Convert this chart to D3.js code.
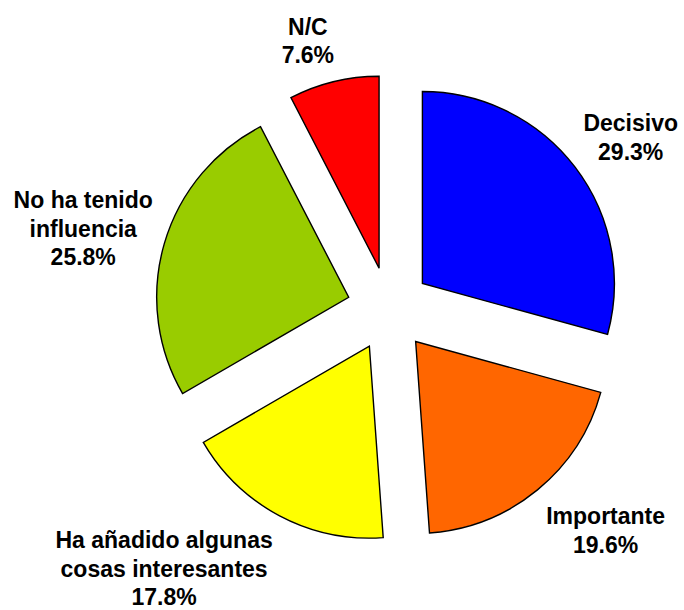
<!DOCTYPE html>
<html>
<head>
<meta charset="utf-8">
<script src="https://cdn.jsdelivr.net/npm/d3@7"></script>
<style>
  body { margin: 0; background: #fff; }
</style>
</head>
<body>
<script>
const categories = ["Decisivo", "Importante", "Ha añadido algunas cosas interesantes", "No ha tenido influencia", "N/C"];
const labelLines = [["Decisivo"], ["Importante"], ["Ha añadido algunas", "cosas interesantes"], ["No ha tenido", "influencia"], ["N/C"]];
const values = [29.3, 19.6, 17.8, 25.8, 7.6];
const colors = ["#0000ff", "#ff6600", "#ffff00", "#99cc00", "#ff0000"];

const width = 684, height = 610;
const cx = 389, cy = 309, radius = 192, explode = 42;
const labelR = 280, lineH = 28.5, fontSize = 23;
// small hand nudges so the labels sit where the original put them
const nudges = [[19, -2], [39, 5], [-94, 12], [-37, -2], [-15, 4]];

const svg = d3.select("body").append("svg")
  .attr("width", width)
  .attr("height", height);

const pie = d3.pie().sort(null).value(d => d)
  .startAngle(0).endAngle(2 * Math.PI);
const arcs = pie(values);

const arc = d3.arc().innerRadius(0).outerRadius(radius);

const g = svg.append("g").attr("transform", `translate(${cx},${cy})`);

g.selectAll("path")
  .data(arcs)
  .enter()
  .append("path")
  .attr("transform", d => {
    const a = (d.startAngle + d.endAngle) / 2;
    return `translate(${explode * Math.sin(a)},${-explode * Math.cos(a)})`;
  })
  .attr("d", arc)
  .attr("fill", (d, i) => colors[i])
  .attr("stroke", "#000")
  .attr("stroke-width", 1.4)
  .attr("stroke-linejoin", "miter");

const labels = g.selectAll("text.lbl")
  .data(arcs)
  .enter()
  .append("text")
  .attr("class", "lbl")
  .attr("text-anchor", "middle")
  .attr("font-family", "'Liberation Sans', Arial, sans-serif")
  .attr("font-weight", "bold")
  .attr("font-size", fontSize + "px")
  .attr("fill", "#000");

labels.each(function (d, i) {
  const a = (d.startAngle + d.endAngle) / 2;
  const x = labelR * Math.sin(a) + nudges[i][0];
  const y = -labelR * Math.cos(a) + nudges[i][1];
  const lines = labelLines[i].concat([d3.format(".1f")(values[i]) + "%"]);
  const y0 = y - (lines.length - 1) * lineH / 2 + fontSize * 0.716 / 2;
  d3.select(this).selectAll("tspan")
    .data(lines)
    .enter()
    .append("tspan")
    .attr("x", x)
    .attr("y", (t, j) => y0 + j * lineH)
    .text(t => t);
});
</script>
</body>
</html>
